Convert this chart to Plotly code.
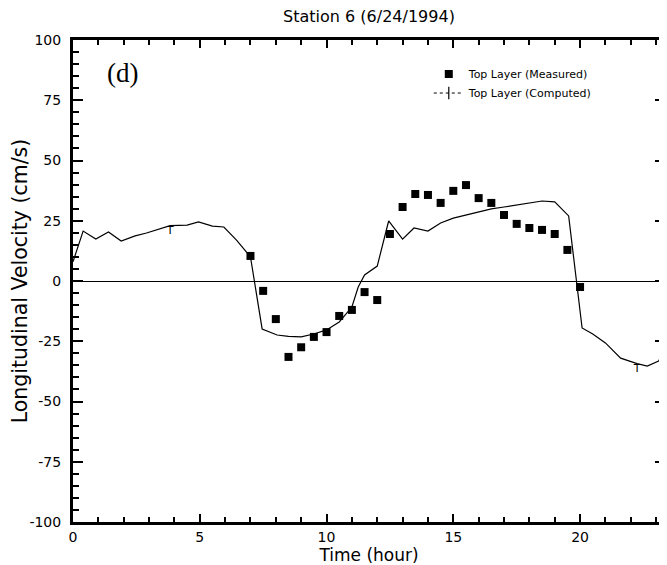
import plotly.graph_objects as go

# Measured (top layer)
meas_t = [7.0, 7.5, 8.0, 8.5, 9.0, 9.5, 10.0, 10.5, 11.0, 11.5, 12.0, 12.5, 13.0, 13.5,
          14.0, 14.5, 15.0, 15.5, 16.0, 16.5, 17.0, 17.5, 18.0, 18.5, 19.0, 19.5, 20.0]
meas_v = [10.4, -4.1, -15.8, -31.5, -27.5, -23.2, -21.2, -14.5, -12.0, -4.6, -7.9, 19.5,
          30.7, 36.1, 35.7, 32.4, 37.4, 39.8, 34.4, 32.4, 27.4, 23.7, 22.0, 21.2, 19.5,
          12.9, -2.5]

# Computed (top layer)
comp_t = [0.0, 0.4, 0.9, 1.4, 1.9, 2.45, 2.9, 3.4, 3.83, 4.5, 4.95, 5.5, 5.95, 6.45, 6.8,
          7.0, 7.46, 8.05, 8.5, 9.0, 9.5, 10.0, 10.5, 11.0, 11.25, 11.5, 12.0, 12.45,
          13.0, 13.45, 14.0, 14.5, 15.0, 15.5, 16.0, 16.5, 17.0, 17.5, 18.0, 18.5, 19.0,
          19.55, 20.08, 20.5, 21.0, 21.6, 22.25, 22.65, 23.1, 23.45]
comp_v = [8.0, 20.7, 17.4, 20.3, 16.6, 18.7, 19.9, 21.6, 23.0, 23.2, 24.5, 22.8, 22.4, 17.0,
          12.4, 10.0, -19.9, -22.4, -23.0, -23.2, -22.0, -20.3, -17.0, -10.8, -2.5, 2.5,
          6.2, 24.9, 17.4, 22.0, 20.7, 24.1, 26.1, 27.4, 28.6, 29.9, 30.7, 31.5, 32.4,
          33.2, 32.8, 27.0, -19.5, -22.0, -25.7, -32.0, -34.3, -35.3, -33.2, -26.0]
comp_mark_t = [3.83, 22.25]
comp_mark_v = [23.0, -34.3]

x_range = [0, 23.35]
y_range = [-100, 100]
y_tickvals = [-100, -75, -50, -25, 0, 25, 50, 75, 100]
y_ticktext = ["-100", "-75", "-50", "-25", "0", "25", "50", "75", "100"]

FONT = "DejaVu Sans, Liberation Sans, Arial, sans-serif"

fig = go.Figure()
fig.add_trace(go.Scatter(
    x=meas_t, y=meas_v, mode="markers", name="Top Layer (Measured)",
    marker=dict(symbol="square", size=8, color="black", line=dict(width=0)),
))
fig.add_trace(go.Scatter(
    x=comp_t, y=comp_v, mode="lines", showlegend=False,
    line=dict(color="black", width=1.2),
))
fig.add_trace(go.Scatter(
    x=comp_mark_t, y=comp_mark_v, mode="text", text=["T"] * len(comp_mark_t),
    textposition="bottom center", showlegend=False,
    textfont=dict(family=FONT, size=11, color="black"),
))
fig.add_trace(go.Scatter(
    x=[None], y=[None], mode="lines+markers", name="Top Layer (Computed)",
    line=dict(color="black", width=1, dash="dot"),
    marker=dict(symbol="line-ns", size=9, color="black", line=dict(width=1.2, color="black")),
))

fig.update_layout(
    xaxis=dict(
        range=x_range, tickmode="linear", tick0=0, dtick=5,
        showline=True, linecolor="black", linewidth=3, mirror="ticks",
        ticks="inside", ticklen=8, tickwidth=2, tickcolor="black",
        minor=dict(ticks="inside", dtick=1, ticklen=5, tickwidth=2, tickcolor="black",
                   showgrid=False),
        showgrid=False, zeroline=False, automargin=False,
        tickfont=dict(family=FONT, size=14, color="black"),
        title=dict(text="Time (hour)", font=dict(family=FONT, size=17, color="black"), standoff=1),
    ),
    yaxis=dict(
        range=y_range, tickmode="array", tickvals=y_tickvals, ticktext=y_ticktext,
        showline=True, linecolor="black", linewidth=3, mirror="ticks",
        ticks="inside", ticklen=10, tickwidth=2, tickcolor="black",
        minor=dict(ticks="inside", dtick=5, ticklen=6, tickwidth=2, tickcolor="black",
                   showgrid=False),
        showgrid=False, zeroline=True, zerolinecolor="black", zerolinewidth=1,
        automargin=False, ticklabelstandoff=6,
        tickfont=dict(family=FONT, size=14, color="black"),
        title=dict(text="Longitudinal Velocity (cm/s)", font=dict(family=FONT, size=20.5, color="black"),
                   standoff=4),
    ),
)

# page has an 8px body margin: figure is sized/positioned to compensate
fig.update_layout(
    width=659, height=557,
    margin=dict(l=65, r=2, t=32, b=43),
    paper_bgcolor="white", plot_bgcolor="white",
    title=dict(text="Station 6 (6/24/1994)", x=0.5, xref="paper", y=0.9845, yref="container",
               yanchor="middle", font=dict(family=FONT, size=16, color="black")),
    legend=dict(x=0.601, y=0.9595, xanchor="left", yanchor="top", bgcolor="rgba(0,0,0,0)",
                font=dict(family=FONT, size=11, color="black"), tracegroupgap=0,
                itemwidth=30),
    annotations=[dict(text="(d)", x=0.084, y=0.931, xref="paper", yref="paper",
                      xanchor="center", yanchor="middle", showarrow=False,
                      font=dict(family="Liberation Serif, Times New Roman, serif",
                                size=27, color="black"))],
)

fig.write_html("out.html")
